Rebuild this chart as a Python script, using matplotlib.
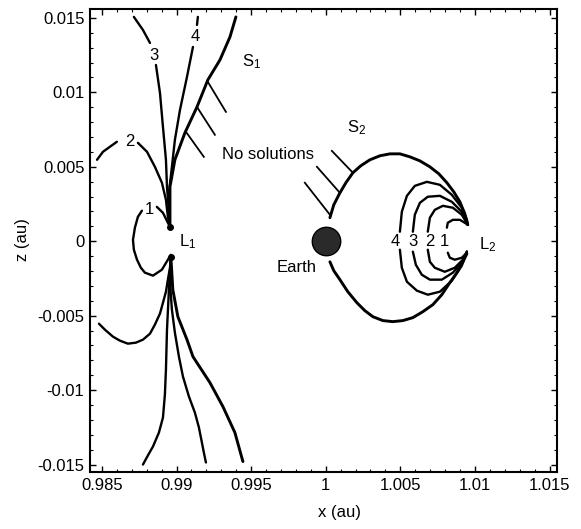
import matplotlib
matplotlib.use("Agg")
import matplotlib.pyplot as plt
from matplotlib.ticker import MultipleLocator

plt.rcParams['font.family'] = ['Liberation Sans', 'DejaVu Sans']
plt.rcParams['mathtext.fontset'] = 'custom'
plt.rcParams['mathtext.rm'] = 'Liberation Sans'
plt.rcParams['mathtext.it'] = 'Liberation Sans'

# ---------------- data (au) ----------------
x_ticks = [0.985, 0.99, 0.995, 1.0, 1.005, 1.01, 1.015]
x_ticklabels = ["0.985", "0.99", "0.995", "1", "1.005", "1.01", "1.015"]
z_ticks = [-0.015, -0.01, -0.005, 0.0, 0.005, 0.01, 0.015]
z_ticklabels = ["-0.015", "-0.01", "-0.005", "0", "0.005", "0.01", "0.015"]

# L1 family
l1_c1a_x = [0.98956, 0.98942, 0.98909, 0.98868]
l1_c1a_z = [0.00097, 0.00124, 0.00191, 0.00231]
l1_c1b_x = [0.98768, 0.98741, 0.98721, 0.98708, 0.98714, 0.98735, 0.98761, 0.98788, 0.98842, 0.98902, 0.98942, 0.98962]
l1_c1b_z = [0.00205, 0.00164, 0.00091, 0.00010, -0.00057, -0.00124, -0.00178, -0.00211, -0.00231, -0.00191, -0.00124, -0.00091]

l1_c2a_x = [0.98467, 0.98507, 0.98600]
l1_c2a_z = [0.00547, 0.00601, 0.00668]
l1_c2b_x = [0.98741, 0.98802, 0.98855, 0.98902, 0.98929, 0.98942, 0.98956]
l1_c2b_z = [0.00661, 0.00601, 0.00500, 0.00393, 0.00278, 0.00164, 0.00097]
l1_c2low_x = [0.98480, 0.98520, 0.98574, 0.98621, 0.98674, 0.98728, 0.98775, 0.98822, 0.98855,
              0.98889, 0.98909, 0.98929, 0.98942, 0.98956, 0.98962]
l1_c2low_z = [-0.00554, -0.00594, -0.00641, -0.00668, -0.00688, -0.00681, -0.00661, -0.00621, -0.00560,
              -0.00486, -0.00413, -0.00339, -0.00258, -0.00178, -0.00104]

l1_c3a_x = [0.98714, 0.98775, 0.98822]
l1_c3a_z = [0.01507, 0.01419, 0.01332]
l1_c3b_x = [0.98862, 0.98889, 0.98909, 0.98929, 0.98936, 0.98949, 0.98956]
l1_c3b_z = [0.01184, 0.00996, 0.00768, 0.00547, 0.00366, 0.00191, 0.00097]

l1_c4a_x = [0.99143, 0.99137]
l1_c4a_z = [0.01507, 0.01453]
l1_c4b_x = [0.99110, 0.99070, 0.99023, 0.98989, 0.98969, 0.98949, 0.98956]
l1_c4b_z = [0.01305, 0.01104, 0.00882, 0.00681, 0.00500, 0.00325, 0.00097]

l1_lowleft_x = [0.98962, 0.98949, 0.98936, 0.98929, 0.98922, 0.98909, 0.98882, 0.98842, 0.98808, 0.98775]
l1_lowleft_z = [-0.00104, -0.00325, -0.00594, -0.00862, -0.01030, -0.01184, -0.01285, -0.01379, -0.01439, -0.01500]
l1_lowmid_x = [0.98962, 0.98956, 0.98969, 0.98989, 0.99016, 0.99043, 0.99083, 0.99123, 0.99150, 0.99170, 0.99183, 0.99197]
l1_lowmid_z = [-0.00104, -0.00278, -0.00460, -0.00614, -0.00775, -0.00909, -0.01043, -0.01151, -0.01251, -0.01352, -0.01419, -0.01486]

s1_up_x = [0.99398, 0.99358, 0.99291, 0.99210, 0.99137, 0.99056, 0.98989, 0.98956, 0.98956]
s1_up_z = [0.01507, 0.01372, 0.01218, 0.01084, 0.00902, 0.00728, 0.00547, 0.00366, 0.00097]
s1_low_x = [0.98962, 0.98975, 0.99009, 0.99070, 0.99110, 0.99224, 0.99311, 0.99391, 0.99445]
s1_low_z = [-0.00104, -0.00325, -0.00507, -0.00661, -0.00775, -0.00950, -0.01111, -0.01285, -0.01480]

s1_hatch_x0 = [0.99210, 0.99137, 0.99063]
s1_hatch_z0 = [0.01070, 0.00902, 0.00735]
s1_hatch_x1 = [0.99331, 0.99257, 0.99183]
s1_hatch_z1 = [0.00869, 0.00715, 0.00567]

# L2 family
s2_up_x = [1.00028, 1.00054, 1.00095, 1.00135, 1.00182, 1.00235, 1.00296, 1.00363, 1.00430, 1.00497,
           1.00564, 1.00631, 1.00698, 1.00758, 1.00812, 1.00858, 1.00899, 1.00932, 1.00952]
s2_up_z = [0.00158, 0.00245, 0.00325, 0.00393, 0.00460, 0.00507, 0.00547, 0.00574, 0.00587, 0.00587,
           0.00567, 0.00540, 0.00500, 0.00453, 0.00393, 0.00332, 0.00265, 0.00185, 0.00111]
s2_low_x = [1.00028, 1.00054, 1.00095, 1.00148, 1.00209, 1.00262, 1.00316, 1.00383, 1.00450, 1.00517,
            1.00584, 1.00651, 1.00718, 1.00778, 1.00832, 1.00879, 1.00919, 1.00946]
s2_low_z = [-0.00138, -0.00198, -0.00258, -0.00339, -0.00413, -0.00466, -0.00507, -0.00533, -0.00540, -0.00533,
            -0.00513, -0.00473, -0.00426, -0.00359, -0.00278, -0.00211, -0.00138, -0.00084]

s2_hatch_x0 = [1.00182, 1.00095, 1.00028]
s2_hatch_z0 = [0.00460, 0.00325, 0.00178]
s2_hatch_x1 = [1.00041, 0.99941, 0.99860]
s2_hatch_z1 = [0.00607, 0.00500, 0.00393]

l2_c4u_x = [1.00952, 1.00946, 1.00912, 1.00845, 1.00765, 1.00678, 1.00597, 1.00544, 1.00510, 1.00497]
l2_c4u_z = [0.00111, 0.00144, 0.00225, 0.00312, 0.00379, 0.00399, 0.00372, 0.00305, 0.00198, 0.00064]
l2_c4l_x = [1.00497, 1.00510, 1.00544, 1.00611, 1.00684, 1.00765, 1.00845, 1.00912, 1.00946]
l2_c4l_z = [-0.00057, -0.00178, -0.00272, -0.00332, -0.00359, -0.00339, -0.00265, -0.00164, -0.00070]

l2_c3u_x = [1.00952, 1.00912, 1.00845, 1.00765, 1.00684, 1.00631, 1.00597, 1.00584]
l2_c3u_z = [0.00111, 0.00198, 0.00265, 0.00305, 0.00299, 0.00258, 0.00178, 0.00064]
l2_c3l_x = [1.00584, 1.00604, 1.00644, 1.00698, 1.00778, 1.00852, 1.00919, 1.00946]
l2_c3l_z = [-0.00070, -0.00158, -0.00225, -0.00258, -0.00258, -0.00211, -0.00138, -0.00070]

l2_c2u_x = [1.00952, 1.00912, 1.00852, 1.00785, 1.00731, 1.00698, 1.00684]
l2_c2u_z = [0.00111, 0.00178, 0.00225, 0.00238, 0.00211, 0.00158, 0.00064]
l2_c2l_x = [1.00684, 1.00698, 1.00731, 1.00798, 1.00865, 1.00919, 1.00946]
l2_c2l_z = [-0.00057, -0.00138, -0.00178, -0.00205, -0.00178, -0.00124, -0.00070]

l2_c1u_x = [1.00952, 1.00932, 1.00899, 1.00852, 1.00818, 1.00812]
l2_c1u_z = [0.00111, 0.00124, 0.00144, 0.00144, 0.00124, 0.00091]
l2_c1l_x = [1.00818, 1.00832, 1.00865, 1.00912, 1.00946]
l2_c1l_z = [-0.00077, -0.00111, -0.00124, -0.00111, -0.00077]

earth_x = [1.0]
earth_z = [0.0]
l1_tip_x = [0.98956, 0.98962]
l1_tip_z = [0.00097, -0.00104]

# labels: (text, x, z)
annotations = [
    ("S$_1$", 0.99505, 0.01204),
    ("No solutions", 0.99612, 0.00580),
    ("S$_2$", 1.00209, 0.00760),
    ("L$_1$", 0.99076, -0.00003),
    ("L$_2$", 1.01086, -0.00020),
    ("Earth", 0.99807, -0.00178),
    ("1", 0.98815, 0.00211),
    ("2", 0.98688, 0.00668),
    ("3", 0.98848, 0.01251),
    ("4", 0.99123, 0.01372),
    ("4", 1.00464, 0.00000),
    ("3", 1.00584, 0.00000),
    ("2", 1.00698, 0.00000),
    ("1", 1.00798, 0.00000),
]

# ---------------- figure ----------------
fig = plt.figure(figsize=(5.81, 5.29), dpi=100)
ax = fig.add_axes([90 / 581, 1 - 472 / 529, (557 - 90) / 581, (472 - 9) / 529])

thin = dict(color='black', lw=1.7, solid_capstyle='round', solid_joinstyle='round')
thick = dict(color='black', lw=2.1, solid_capstyle='round', solid_joinstyle='round')

for xs, zs in [(l1_c1a_x, l1_c1a_z), (l1_c1b_x, l1_c1b_z),
               (l1_c2a_x, l1_c2a_z), (l1_c2b_x, l1_c2b_z), (l1_c2low_x, l1_c2low_z),
               (l1_c3a_x, l1_c3a_z), (l1_c3b_x, l1_c3b_z),
               (l1_c4a_x, l1_c4a_z), (l1_c4b_x, l1_c4b_z),
               (l1_lowleft_x, l1_lowleft_z), (l1_lowmid_x, l1_lowmid_z),
               (l2_c4u_x, l2_c4u_z), (l2_c4l_x, l2_c4l_z),
               (l2_c3u_x, l2_c3u_z), (l2_c3l_x, l2_c3l_z),
               (l2_c2u_x, l2_c2u_z), (l2_c2l_x, l2_c2l_z),
               (l2_c1u_x, l2_c1u_z), (l2_c1l_x, l2_c1l_z)]:
    ax.plot(xs, zs, **thin)

for xs, zs in [(s1_up_x, s1_up_z), (s1_low_x, s1_low_z),
               (s2_up_x, s2_up_z), (s2_low_x, s2_low_z)]:
    ax.plot(xs, zs, **thick)

for x0, z0, x1, z1 in zip(s1_hatch_x0, s1_hatch_z0, s1_hatch_x1, s1_hatch_z1):
    ax.plot([x0, x1], [z0, z1], color='black', lw=1.3)
for x0, z0, x1, z1 in zip(s2_hatch_x0, s2_hatch_z0, s2_hatch_x1, s2_hatch_z1):
    ax.plot([x0, x1], [z0, z1], color='black', lw=1.3)

ax.scatter(l1_tip_x, l1_tip_z, s=16, color='black', zorder=3)
ax.scatter(earth_x, earth_z, s=420, color='#2a2a2a', edgecolors='black',
           linewidths=1.0, zorder=3)

for txt, xx, zz in annotations:
    ax.text(xx, zz, txt, ha='center', va='center', fontsize=12)

ax.set_xlim(0.9842, 1.0155)
ax.set_ylim(-0.0155, 0.0156)
ax.set_xticks(x_ticks)
ax.set_xticklabels(x_ticklabels)
ax.set_yticks(z_ticks)
ax.set_yticklabels(z_ticklabels)
ax.xaxis.set_minor_locator(MultipleLocator(0.001))
ax.yaxis.set_minor_locator(MultipleLocator(0.001))
ax.tick_params(which='both', direction='in', top=True, right=True, labelsize=12, pad=4)
ax.tick_params(which='major', length=4, width=1.0)
ax.tick_params(which='minor', length=2, width=0.8)
for sp in ax.spines.values():
    sp.set_linewidth(1.5)

fig.text(340 / 581, 1 - 512 / 529, "x (au)", ha='center', va='center', fontsize=12)
fig.text(22 / 581, 1 - 240 / 529, "z (au)", ha='center', va='center', fontsize=12, rotation=90)

fig.savefig("out.png", dpi=100)
